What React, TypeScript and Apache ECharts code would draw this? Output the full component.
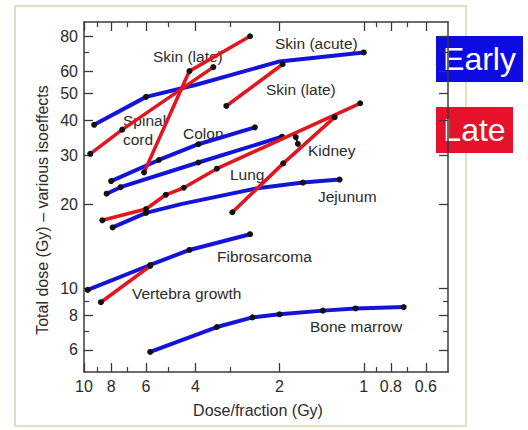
import React, { useEffect, useRef } from 'react';
import * as echarts from 'echarts';

// Axis ticks (dose per fraction, Gy — reversed log axis; total dose, Gy — log axis)
const xMajorTicks = [10, 8, 6, 4, 2, 1, 0.8, 0.6];
const xMinorTicks = [9, 7, 5, 3, 0.9, 0.7];
const yMajorTicks = [6, 8, 10, 20, 30, 40, 50, 60, 80];
const yMinorTicks = [7, 9, 70];

// ---- Early-responding tissues (blue) ----
const skinAcuteDose = [9.2, 6.0, 4.0, 2.0, 1.0];
const skinAcuteTotal = [38.5, 48.5, 53.5, 65, 70];
const skinAcuteDot = [1, 1, 0, 0, 1];

const colonDose = [8.0, 5.4, 3.9, 2.45];
const colonTotal = [24.2, 28.8, 32.8, 37.7];
const colonDot = [1, 1, 1, 1];

const lungEarlyDose = [8.3, 7.4, 3.9, 1.96];
const lungEarlyTotal = [21.8, 23.0, 28.2, 34.9];
const lungEarlyDot = [1, 1, 1, 1];

const jejunumDose = [7.9, 6.0, 4.5, 2.4, 1.65, 1.22];
const jejunumTotal = [16.5, 18.6, 20.0, 22.8, 23.9, 24.5];
const jejunumDot = [1, 1, 0, 0, 1, 1];

const fibrosarcomaDose = [9.7, 5.8, 4.2, 2.55];
const fibrosarcomaTotal = [9.85, 12.1, 13.7, 15.6];
const fibrosarcomaDot = [1, 1, 1, 1];

const boneMarrowDose = [5.8, 3.35, 2.5, 2.0, 1.4, 1.07, 0.72];
const boneMarrowTotal = [5.9, 7.25, 7.85, 8.05, 8.3, 8.45, 8.55];
const boneMarrowDot = [1, 1, 1, 1, 1, 1, 1];

// ---- Late-responding tissues (red) ----
const spinalCordDose = [9.5, 7.3, 3.45];
const spinalCordTotal = [30.3, 37, 62];
const spinalCordDot = [1, 1, 1];

const skinLateADose = [6.1, 4.2, 2.55];
const skinLateATotal = [26, 60, 80];
const skinLateADot = [1, 1, 1];

const skinLateBDose = [3.1, 1.95];
const skinLateBTotal = [45, 63.5];
const skinLateBDot = [1, 1];

const kidneyADose = [8.6, 6.0, 5.1, 4.4, 3.35, 1.03];
const kidneyATotal = [17.5, 19.2, 21.6, 22.9, 26.8, 46];
const kidneyADot = [1, 1, 1, 1, 1, 1];

const kidneyBDose = [2.95, 1.94, 1.27];
const kidneyBTotal = [18.7, 28, 41];
const kidneyBDot = [1, 1, 1];

const vertebraDose = [8.7, 5.8];
const vertebraTotal = [8.9, 12.0];
const vertebraDot = [1, 1];

// black measured points (kidney, early curve remnant)
const kidneyBlackDose = [1.75, 1.72];
const kidneyBlackTotal = [34.8, 32.9];

const BLUE = '#1414d8';
const RED = '#e2161f';
const INK = '#2b2b2b';
const FONT = "'Liberation Sans', Arial, Helvetica, sans-serif";

type Curve = { name: string; dose: number[]; total: number[]; dot: number[]; late: boolean };

const curves: Curve[] = [
  { name: 'Skin (acute)', dose: skinAcuteDose, total: skinAcuteTotal, dot: skinAcuteDot, late: false },
  { name: 'Colon', dose: colonDose, total: colonTotal, dot: colonDot, late: false },
  { name: 'Lung (early)', dose: lungEarlyDose, total: lungEarlyTotal, dot: lungEarlyDot, late: false },
  { name: 'Jejunum', dose: jejunumDose, total: jejunumTotal, dot: jejunumDot, late: false },
  { name: 'Fibrosarcoma', dose: fibrosarcomaDose, total: fibrosarcomaTotal, dot: fibrosarcomaDot, late: false },
  { name: 'Bone marrow', dose: boneMarrowDose, total: boneMarrowTotal, dot: boneMarrowDot, late: false },
  { name: 'Spinal cord', dose: spinalCordDose, total: spinalCordTotal, dot: spinalCordDot, late: true },
  { name: 'Skin (late) A', dose: skinLateADose, total: skinLateATotal, dot: skinLateADot, late: true },
  { name: 'Skin (late) B', dose: skinLateBDose, total: skinLateBTotal, dot: skinLateBDot, late: true },
  { name: 'Kidney A', dose: kidneyADose, total: kidneyATotal, dot: kidneyADot, late: true },
  { name: 'Kidney B', dose: kidneyBDose, total: kidneyBTotal, dot: kidneyBDot, late: true },
  { name: 'Vertebra growth', dose: vertebraDose, total: vertebraTotal, dot: vertebraDot, late: true },
];

const labelTexts: { text: string; x: number; y: number }[] = [
  { text: 'Skin (late)', x: 153, y: 56 },
  { text: 'Skin (acute)', x: 275, y: 43 },
  { text: 'Skin (late)', x: 266, y: 89 },
  { text: 'Spinal', x: 123, y: 120 },
  { text: 'cord', x: 123, y: 139 },
  { text: 'Colon', x: 183, y: 133 },
  { text: 'Lung', x: 230, y: 174 },
  { text: 'Kidney', x: 308, y: 150 },
  { text: 'Jejunum', x: 318, y: 196 },
  { text: 'Fibrosarcoma', x: 217, y: 256 },
  { text: 'Vertebra growth', x: 132, y: 293 },
  { text: 'Bone marrow', x: 310, y: 326 },
];

export default function App() {
  const ref = useRef<HTMLDivElement>(null);

  useEffect(() => {
    if (!ref.current) return;
    const chart = echarts.init(ref.current, undefined, { renderer: 'svg' });

    const axisColor = '#3a3a3a';
    const baseX = {
      type: 'log' as const,
      logBase: 10,
      min: 0.5,
      max: 10,
      inverse: true,
      gridIndex: 0,
      splitLine: { show: false },
      minorTick: { show: false },
      minorSplitLine: { show: false },
    };
    const baseY = {
      type: 'log' as const,
      logBase: 10,
      min: 5,
      max: 90,
      gridIndex: 0,
      splitLine: { show: false },
      minorTick: { show: false },
      minorSplitLine: { show: false },
    };
    const lineOn = { show: true, onZero: false, lineStyle: { color: axisColor, width: 1.5 } };
    const lineOff = { show: false, onZero: false };
    const majorTick = (vals: number[]) => ({
      show: true, inside: true, length: 9, customValues: vals,
      lineStyle: { color: axisColor, width: 1.3 },
    });
    const minorTick = (vals: number[]) => ({
      show: true, inside: true, length: 5, customValues: vals,
      lineStyle: { color: axisColor, width: 1.2 },
    });
    const noLabel = { show: false };

    const series: any[] = curves.map((c) => ({
      type: 'line',
      name: c.name,
      xAxisIndex: 0,
      yAxisIndex: 0,
      silent: true,
      z: c.late ? 4 : 3,
      symbol: 'circle',
      symbolSize: 6,
      showSymbol: true,
      itemStyle: { color: '#111' },
      lineStyle: { color: c.late ? RED : BLUE, width: c.late ? 3.6 : 4 },
      data: c.dose.map((d, i) => ({
        value: [d, c.total[i]],
        symbol: c.dot[i] ? 'circle' : 'none',
      })),
    }));
    series.push({
      type: 'line',
      name: 'Kidney (points)',
      xAxisIndex: 0,
      yAxisIndex: 0,
      silent: true,
      z: 5,
      symbol: 'circle',
      symbolSize: 6,
      itemStyle: { color: '#111' },
      lineStyle: { color: '#222', width: 2 },
      data: kidneyBlackDose.map((d, i) => [d, kidneyBlackTotal[i]]),
    });

    const graphic: any[] = [
      {
        type: 'rect',
        shape: { x: 15, y: 6, width: 451, height: 420 },
        style: { fill: 'none', stroke: '#e2dfc2', lineWidth: 2 },
        z: 0,
        silent: true,
      },
      ...labelTexts.map((t) => ({
        type: 'text',
        x: t.x,
        y: t.y,
        z: 1,
        silent: true,
        style: {
          text: t.text,
          fill: INK,
          font: `15.5px ${FONT}`,
          textAlign: 'left',
          align: 'left',
          textVerticalAlign: 'middle',
          verticalAlign: 'middle',
        },
      })),
      {
        type: 'text',
        x: 258,
        y: 410,
        silent: true,
        style: {
          text: 'Dose/fraction (Gy)',
          fill: INK,
          font: `16px ${FONT}`,
          textAlign: 'center',
          align: 'center',
          textVerticalAlign: 'middle',
          verticalAlign: 'middle',
        },
      },
      {
        type: 'text',
        x: 42,
        y: 210,
        rotation: Math.PI / 2,
        silent: true,
        style: {
          text: 'Total dose (Gy) \u2013 various isoeffects',
          fill: INK,
          font: `16px ${FONT}`,
          textAlign: 'center',
          align: 'center',
          textVerticalAlign: 'middle',
          verticalAlign: 'middle',
        },
      },
      {
        type: 'group',
        z: 100,
        children: [
          {
            type: 'rect',
            shape: { x: 436, y: 36, width: 87, height: 46 },
            style: { fill: '#0c0ce0' },
          },
          {
            type: 'text',
            x: 479.5,
            y: 59,
            style: {
              text: 'Early',
              fill: '#ffffff',
              font: `32px ${FONT}`,
              textAlign: 'center',
              align: 'center',
              textVerticalAlign: 'middle',
              verticalAlign: 'middle',
            },
          },
          {
            type: 'rect',
            shape: { x: 436, y: 107, width: 77, height: 46 },
            style: { fill: '#e6122b' },
          },
          {
            type: 'text',
            x: 474.5,
            y: 130,
            style: {
              text: 'Late',
              fill: '#ffffff',
              font: `32px ${FONT}`,
              textAlign: 'center',
              align: 'center',
              textVerticalAlign: 'middle',
              verticalAlign: 'middle',
            },
          },
        ],
      },
    ];

    chart.setOption({
      animation: false,
      backgroundColor: '#ffffff',
      grid: { left: 84, right: 80, top: 22, bottom: 58, containLabel: false },
      xAxis: [
        {
          ...baseX,
          position: 'bottom',
          axisLine: lineOn,
          axisTick: majorTick(xMajorTicks),
          axisLabel: {
            show: true,
            customValues: xMajorTicks,
            formatter: (v: number) => String(v),
            margin: 6,
            fontSize: 16,
            color: INK,
            fontFamily: FONT,
          },
        },
        { ...baseX, position: 'bottom', axisLine: lineOff, axisTick: minorTick(xMinorTicks), axisLabel: noLabel },
        { ...baseX, position: 'top', axisLine: lineOn, axisTick: majorTick(xMajorTicks), axisLabel: noLabel },
        { ...baseX, position: 'top', axisLine: lineOff, axisTick: minorTick(xMinorTicks), axisLabel: noLabel },
      ],
      yAxis: [
        {
          ...baseY,
          position: 'left',
          axisLine: lineOn,
          axisTick: majorTick(yMajorTicks),
          axisLabel: {
            show: true,
            customValues: yMajorTicks,
            formatter: (v: number) => String(v),
            margin: 6,
            fontSize: 16,
            color: INK,
            fontFamily: FONT,
          },
        },
        { ...baseY, position: 'left', axisLine: lineOff, axisTick: minorTick(yMinorTicks), axisLabel: noLabel },
        { ...baseY, position: 'right', axisLine: lineOn, axisTick: majorTick(yMajorTicks), axisLabel: noLabel },
        { ...baseY, position: 'right', axisLine: lineOff, axisTick: minorTick(yMinorTicks), axisLabel: noLabel },
      ],
      series,
      graphic,
    });

    return () => chart.dispose();
  }, []);

  return (
    <div
      ref={ref}
      style={{ position: 'fixed', left: 0, top: 0, width: 528, height: 430, background: '#fff' }}
    />
  );
}
